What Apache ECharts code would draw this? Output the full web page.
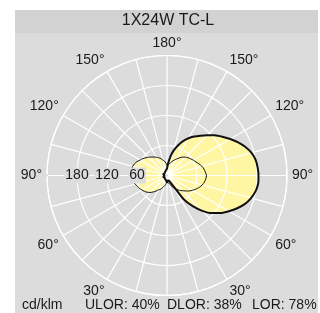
<!DOCTYPE html>
<html>
<head>
<meta charset="utf-8">
<script src="https://cdn.jsdelivr.net/npm/echarts@6/dist/echarts.min.js"></script>
<style>
  html, body { margin: 0; padding: 0; background: #fff; }
  .panel { position: absolute; left: 15px; top: 10px; width: 303px; height: 303px; background: #dcdcdc; }
  .title-bar { position: absolute; left: 15px; top: 10px; width: 303px; height: 23px; background: #d2d2d2; }
  #chart { position: absolute; left: 0; top: 0; width: 320px; height: 313px; }
</style>
</head>
<body>
<div class="panel"></div>
<div class="title-bar"></div>
<div id="chart"></div>
<script>
  // 光强分布曲线 (cd/klm), gamma 0 = 下, 180 = 上
  const gammas = [0, 5, 10, 15, 20, 25, 30, 35, 40, 45, 50, 55, 60, 65, 70, 75, 80, 85, 90,
    95, 100, 105, 110, 115, 120, 125, 130, 135, 140, 145, 150, 155, 160, 165, 170, 175, 180]

  // C0-C180 (粗线)
  const c0Right = [14, 12, 10, 10, 11, 14, 22, 58, 80, 100, 117, 131, 143, 155, 166, 174, 180, 183, 183,
    182, 180, 175, 167, 157, 146, 135, 125, 114, 104, 95, 86, 76, 64, 52, 38, 24, 14]
  const c0Left = [14, 12, 10, 9, 8, 8, 8, 7, 7, 6, 6, 6, 7, 8, 8, 7, 6, 5, 5,
    5, 6, 7, 8, 8, 7, 6, 6, 6, 7, 7, 8, 8, 9, 10, 11, 12, 14]

  // C90-C270 (细线)
  const c90Right = [14, 14, 15, 16, 20, 25, 30, 34, 39, 43, 48, 54, 59, 64, 69, 73, 76, 78, 79,
    77, 75, 72, 68, 64, 61, 58, 55, 52, 48, 43, 38, 34, 30, 26, 23, 21, 20]
  const c90Left = [14, 16, 19, 22, 26, 30, 33, 38, 43, 48, 52, 55, 58, 61, 63, 66, 69, 71, 72,
    72, 72, 71, 69, 66, 62, 59, 55, 52, 48, 45, 42, 39, 36, 32, 29, 25, 20]

  const radiusTicks = [60, 120, 180]
  const footerTexts = ['cd/klm', 'ULOR: 40%', 'DLOR: 38%', 'LOR: 78%']
  const footerX = [22, 85, 167, 252]

  const fillColor = '#fff6a3'
  const textColor = '#1a1a1a'
  const font = 'Liberation Sans'
  const center = [167, 175.5]

  // 右侧 gamma -> 角度 270-g, 左侧回到起点
  function loop(right, left) {
    const pts = []
    gammas.forEach((g, i) => pts.push([right[i], 270 - g]))
    for (let i = gammas.length - 1; i >= 0; i--) {
      const g = gammas[i]
      pts.push([left[i], g >= 90 ? g - 90 : 270 + g])
    }
    return pts
  }

  function angleLabel(v) {
    const g = v <= 90 ? 90 + v : (v <= 270 ? 270 - v : v - 270)
    if (g % 30 !== 0 || g === 0 || v === 360) return ''
    return g + '°'
  }

  const white = { lineStyle: { color: '#ffffff', width: 1.2 } }

  const myChart = echarts.init(document.getElementById('chart'))
  myChart.setOption({
    animation: false,
    title: [{
      text: '1X24W TC-L',
      left: 168,
      top: 13,
      textAlign: 'center',
      padding: 0,
      textStyle: { fontSize: 16, fontWeight: 'normal', color: textColor, fontFamily: font }
    }].concat(footerTexts.map((t, i) => ({
      text: t,
      left: footerX[i],
      top: 298,
      padding: 0,
      textStyle: { fontSize: 14, fontWeight: 'normal', color: textColor, fontFamily: font }
    }))),
    polar: [
      { center: center, radius: 120 },
      { center: center, radius: 120 }
    ],
    angleAxis: [{
      polarIndex: 0,
      type: 'value',
      min: 0,
      max: 360,
      interval: 15,
      startAngle: 180,
      clockwise: true,
      z: 3,
      axisLine: white,
      axisTick: { show: false },
      splitLine: white,
      axisLabel: {
        formatter: angleLabel,
        margin: 5,
        fontSize: 14,
        color: textColor,
        fontFamily: font
      }
    }, {
      polarIndex: 1,
      type: 'value',
      min: 0,
      max: 360,
      startAngle: 180,
      show: false
    }],
    radiusAxis: [{
      polarIndex: 0,
      type: 'value',
      min: 0,
      max: 240,
      interval: 60,
      z: 3,
      axisLine: { show: false },
      axisTick: { show: false },
      axisLabel: { show: false },
      splitLine: white
    }, {
      polarIndex: 1,
      type: 'value',
      min: 0,
      max: 240,
      interval: 60,
      z: 10,
      axisLine: { show: false },
      axisTick: { show: false },
      splitLine: { show: false },
      axisLabel: {
        formatter: v => radiusTicks.indexOf(v) >= 0 ? String(v) : '',
        margin: 0,
        align: 'center',
        verticalAlign: 'middle',
        fontSize: 14,
        color: textColor,
        fontFamily: font,
        backgroundColor: '#dcdcdc',
        padding: [1, 1]
      }
    }],
    series: [
      { data: loop(c0Right, c0Left), width: 0, z: 1, area: true },
      { data: loop(c90Right, c90Left), width: 0, z: 1, area: true },
      { data: loop(c0Right, c0Left), width: 2, z: 5 },
      { data: loop(c90Right, c90Left), width: 1, z: 5 }
    ].map(s => ({
      type: 'line',
      coordinateSystem: 'polar',
      polarIndex: 0,
      data: s.data,
      symbol: 'none',
      smooth: 0.2,
      silent: true,
      z: s.z,
      lineStyle: { width: s.width, color: '#111111', opacity: s.width ? 1 : 0 },
      areaStyle: s.area ? { color: fillColor, opacity: 1 } : undefined
    }))
  })
</script>
</body>
</html>
